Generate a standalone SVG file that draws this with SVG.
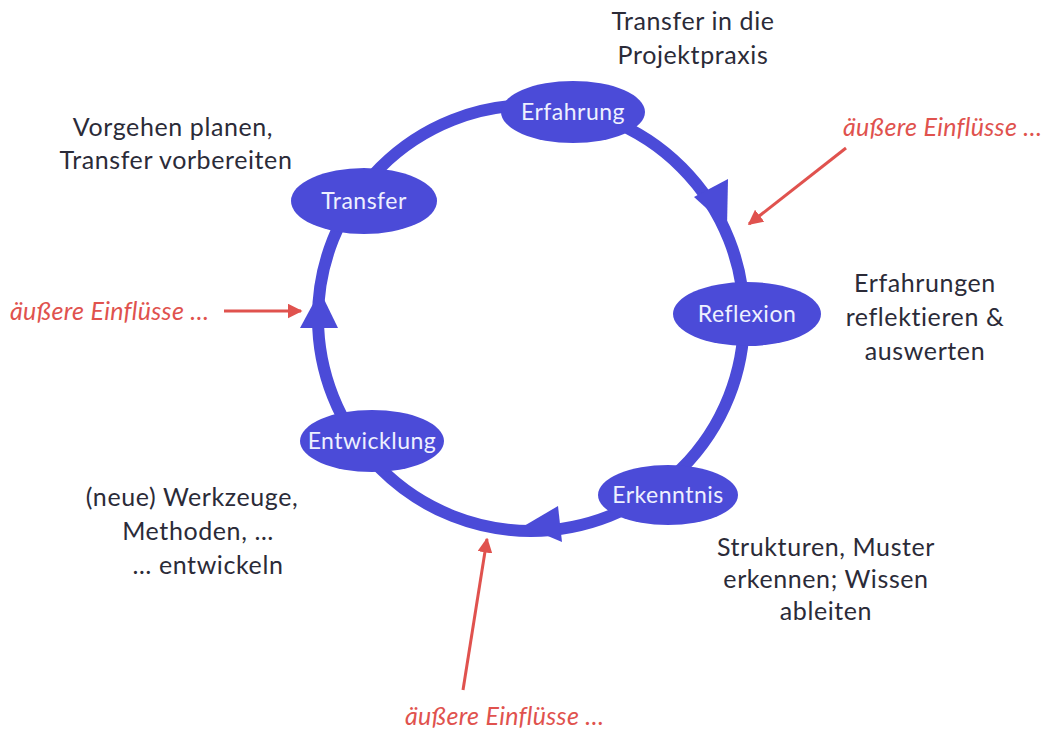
<svg xmlns="http://www.w3.org/2000/svg" width="1055" height="729" viewBox="0 0 1055 729">
<defs>
<marker id="red" viewBox="0 0 10 10" refX="9" refY="5" markerWidth="5" markerHeight="5" orient="auto" markerUnits="strokeWidth">
<path d="M0,0 L10,5 L0,10 z" fill="#e0524e"/>
</marker>
<style>
.node{fill:#4b4bd8;}
.lbl{font-family:Lato,"Open Sans",sans-serif;font-size:23px;letter-spacing:0.5px;fill:#eef0ff;text-anchor:middle;}
.txt{font-family:Lato,"Open Sans",sans-serif;font-size:25px;letter-spacing:0.6px;fill:#2b2b38;text-anchor:middle;}
.red{font-family:Lato,"Open Sans",sans-serif;font-size:25px;font-style:italic;letter-spacing:0.3px;fill:#e0524e;}
.ring{fill:none;stroke:#4b4bd8;stroke-width:12;}
.head{fill:#4b4bd8;}
.rl{stroke:#e0524e;stroke-width:3;fill:none;marker-end:url(#red);}
</style>
</defs>
<rect width="1055" height="729" fill="#ffffff"/>
<g id="connectors">
<circle class="ring" cx="531" cy="318" r="213"/>
<polygon class="head" points="727,227 728,179 694,197"/>
<polygon class="head" points="320,291 338,328 300,328"/>
<polygon class="head" points="524,526 558,506 562,542"/>
<line class="rl" x1="846" y1="148" x2="749" y2="224"/>
<line class="rl" x1="224" y1="311" x2="301" y2="311"/>
<line class="rl" x1="463" y1="690" x2="487" y2="539"/>
</g>
<g id="erfahrung"><ellipse class="node" cx="573" cy="112" rx="72" ry="31"/><text class="lbl" x="573" y="120">Erfahrung</text></g>
<g id="reflexion"><ellipse class="node" cx="747" cy="314" rx="74" ry="32"/><text class="lbl" x="747" y="322">Reflexion</text></g>
<g id="erkenntnis"><ellipse class="node" cx="668" cy="495" rx="70" ry="30"/><text class="lbl" x="668" y="503">Erkenntnis</text></g>
<g id="entwicklung"><ellipse class="node" cx="372" cy="441" rx="72" ry="31"/><text class="lbl" x="372" y="449">Entwicklung</text></g>
<g id="transfer"><ellipse class="node" cx="364" cy="201" rx="73" ry="33"/><text class="lbl" x="364" y="209">Transfer</text></g>
<g id="texts">
<text class="txt" x="693" y="30">Transfer in die</text>
<text class="txt" x="693" y="64">Projektpraxis</text>
<text class="txt" x="173" y="136">Vorgehen planen,</text>
<text class="txt" x="176" y="169">Transfer vorbereiten</text>
<text class="txt" x="925" y="292">Erfahrungen</text>
<text class="txt" x="925" y="326">reflektieren &amp;</text>
<text class="txt" x="925" y="360">auswerten</text>
<text class="txt" x="826" y="556">Strukturen, Muster</text>
<text class="txt" x="826" y="588">erkennen; Wissen</text>
<text class="txt" x="826" y="620">ableiten</text>
<text class="txt" x="192" y="506">(neue) Werkzeuge,</text>
<text class="txt" x="198" y="540">Methoden, …</text>
<text class="txt" x="208" y="574">… entwickeln</text>
<text class="red" x="843" y="136">äußere Einflüsse …</text>
<text class="red" x="10" y="320">äußere Einflüsse …</text>
<text class="red" x="405" y="725">äußere Einflüsse …</text>
</g>
</svg>
